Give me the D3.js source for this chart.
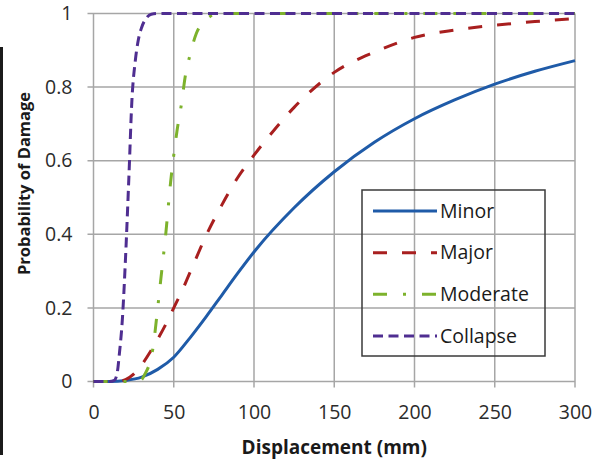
<!DOCTYPE html>
<html>
<head>
<meta charset="utf-8">
<script src="https://cdn.jsdelivr.net/npm/d3@7"></script>
<style>
  body { margin: 0; background: #fff; }
  svg { display: block; }
</style>
</head>
<body>
<script>
// Fragility curves
var seriesNames = ["Minor", "Major", "Moderate", "Collapse"];

var minorDisp = [0, 10, 20, 30, 40, 50, 60, 70, 80, 90, 100, 125, 150, 175, 200, 225, 250, 275, 300];
var minorProb = [0, 0, 0.003, 0.012, 0.033, 0.066, 0.118, 0.175, 0.235, 0.295, 0.352, 0.472, 0.57, 0.65, 0.714, 0.765, 0.808, 0.843, 0.872];

var majorDisp = [0, 10, 15, 20, 25, 30, 35, 40, 45, 50, 55, 60, 70, 80, 90, 100, 110, 125, 150, 175, 200, 225, 250, 275, 300];
var majorProb = [0, 0, 0, 0.005, 0.02, 0.045, 0.078, 0.115, 0.155, 0.2, 0.245, 0.295, 0.395, 0.48, 0.555, 0.615, 0.67, 0.745, 0.84, 0.895, 0.935, 0.955, 0.968, 0.978, 0.986];

var moderateDisp = [0, 25, 28, 30, 32, 35, 37, 40, 42, 45, 48, 50, 52, 55, 57, 60, 64, 68, 72, 76, 300];
var moderateProb = [0, 0, 0, 0.005, 0.02, 0.05, 0.09, 0.2, 0.28, 0.4, 0.54, 0.615, 0.68, 0.76, 0.825, 0.885, 0.945, 0.975, 0.99, 1, 1];

var collapseDisp = [0, 10, 13, 15, 16, 18, 20, 22, 24, 26, 28, 30, 33, 36, 40, 300];
var collapseProb = [0, 0, 0.003, 0.03, 0.07, 0.17, 0.34, 0.55, 0.77, 0.87, 0.93, 0.962, 0.988, 0.998, 1, 1];

var xTicks = [0, 50, 100, 150, 200, 250, 300];
var yTicks = [0, 0.2, 0.4, 0.6, 0.8, 1];

var colors = ["#1f5ba8", "#a81f1f", "#7db22c", "#4f2e91"];
var dashes = [null, "14,15", "14,16,3,16", "10,5.5"];

var width = 604, height = 467;

var svg = d3.select("body").append("svg")
    .attr("width", width)
    .attr("height", height);

// dark strip on the left edge of the picture
svg.append("rect")
    .attr("x", 0).attr("y", 47)
    .attr("width", 3).attr("height", 408)
    .attr("fill", "#1b1b1b");

var x = d3.scaleLinear().domain([0, 300]).range([93.5, 575]);
var y = d3.scaleLinear().domain([0, 1]).range([381.5, 13.5]);

// Gridlines
svg.append("g")
    .selectAll("line.v")
    .data(xTicks)
    .enter().append("line")
    .attr("x1", function(d) { return x(d); })
    .attr("x2", function(d) { return x(d); })
    .attr("y1", y(1))
    .attr("y2", y(0) + 6)
    .attr("stroke", "#a6a6a6")
    .attr("stroke-width", 1.5);

svg.append("g")
    .selectAll("line.h")
    .data(yTicks)
    .enter().append("line")
    .attr("x1", x(0) - 6)
    .attr("x2", x(300))
    .attr("y1", function(d) { return y(d); })
    .attr("y2", function(d) { return y(d); })
    .attr("stroke", "#a6a6a6")
    .attr("stroke-width", 1.5);

// Axes (labels only, lines drawn above)
svg.append("g")
    .attr("transform", "translate(0," + (y(0) + 8) + ")")
    .call(d3.axisBottom(x).tickValues(xTicks).tickSize(0).tickPadding(16));

svg.append("g")
    .attr("transform", "translate(" + (x(0) - 8) + ",0)")
    .call(d3.axisLeft(y).tickValues(yTicks).tickSize(0).tickPadding(13)
        .tickFormat(function(d) { return d === 0 || d === 1 ? d3.format("d")(d) : d3.format(".1f")(d); }));

svg.selectAll(".domain").remove();
svg.selectAll(".tick text")
    .attr("font-family", "'Open Sans', sans-serif")
    .attr("font-size", "19.5px")
    .attr("fill", "#2b2b2b");

// Axis titles
svg.append("text")
    .attr("x", (x(0) + x(300)) / 2)
    .attr("y", 454)
    .attr("text-anchor", "middle")
    .attr("font-family", "'Open Sans', sans-serif")
    .attr("font-weight", "bold")
    .attr("font-size", "19px")
    .attr("fill", "#1a1a1a")
    .text("Displacement (mm)");

svg.append("text")
    .attr("transform", "translate(30,183.5) rotate(-90)")
    .attr("text-anchor", "middle")
    .attr("font-family", "'Open Sans', sans-serif")
    .attr("font-weight", "bold")
    .attr("font-size", "16.5px")
    .attr("fill", "#1a1a1a")
    .text("Probability of Damage");

// Curves
var series = [
    d3.zip(minorDisp, minorProb),
    d3.zip(majorDisp, majorProb),
    d3.zip(moderateDisp, moderateProb),
    d3.zip(collapseDisp, collapseProb)
];

var line = d3.line()
    .x(function(d) { return x(d[0]); })
    .y(function(d) { return y(d[1]); })
    .curve(d3.curveMonotoneX);

svg.append("g")
    .selectAll("path")
    .data(series)
    .enter().append("path")
    .attr("d", line)
    .attr("fill", "none")
    .attr("stroke", function(d, i) { return colors[i]; })
    .attr("stroke-width", 3)
    .attr("stroke-dasharray", function(d, i) { return dashes[i]; });

// Legend
var legend = svg.append("g");

legend.append("rect")
    .attr("x", 362).attr("y", 190)
    .attr("width", 183).attr("height", 166)
    .attr("fill", "none")
    .attr("stroke", "#3a3a3a")
    .attr("stroke-width", 1.5);

var legendY = d3.scalePoint().domain(seriesNames).range([211, 336]);

var items = legend.selectAll("g.item")
    .data(seriesNames)
    .enter().append("g")
    .attr("transform", function(d) { return "translate(0," + legendY(d) + ")"; });

items.append("line")
    .attr("x1", 373).attr("x2", 437)
    .attr("stroke", function(d, i) { return colors[i]; })
    .attr("stroke-width", 3)
    .attr("stroke-dasharray", function(d, i) { return dashes[i]; });

items.append("text")
    .attr("x", 440)
    .attr("dy", "0.35em")
    .attr("font-family", "'Open Sans', sans-serif")
    .attr("font-size", "19.5px")
    .attr("fill", "#1a1a1a")
    .text(function(d) { return d; });
</script>
</body>
</html>
